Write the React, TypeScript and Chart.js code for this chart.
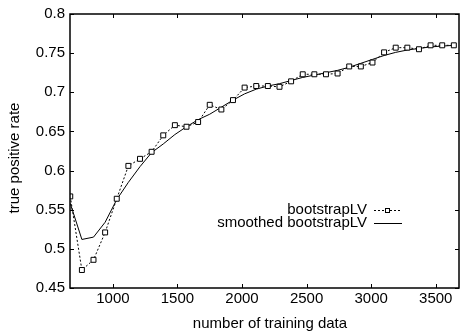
import React, { useEffect, useRef } from "react";
import { Chart, registerables } from "chart.js";

Chart.register(...registerables);

const trainingSizes = [
  670, 760, 850, 940, 1030, 1120, 1210, 1300, 1390, 1480, 1570, 1660, 1750, 1840, 1930, 2020, 2110,
  2200, 2290, 2380, 2470, 2560, 2650, 2740, 2830, 2920, 3010, 3100, 3190, 3280, 3370, 3460, 3550, 3640,
];

const bootstrapLV = [
  0.567, 0.473, 0.486, 0.521, 0.564, 0.606, 0.615, 0.624, 0.645, 0.658, 0.656, 0.662, 0.684, 0.678,
  0.69, 0.706, 0.708, 0.708, 0.707, 0.714, 0.723, 0.723, 0.723, 0.724, 0.733, 0.733, 0.738, 0.751,
  0.757, 0.757, 0.755, 0.76, 0.76, 0.76,
];

const smoothedBootstrapLV = [
  0.558, 0.512, 0.515, 0.534, 0.563, 0.585, 0.605, 0.623, 0.634, 0.646, 0.656, 0.665, 0.672, 0.681,
  0.69, 0.698, 0.704, 0.708, 0.711, 0.715, 0.719, 0.722, 0.725, 0.728, 0.732, 0.737, 0.742, 0.747,
  0.751, 0.754, 0.756, 0.758, 0.759, 0.76,
];

const xTickValues = [1000, 1500, 2000, 2500, 3000, 3500];
const yTickValues = [0.45, 0.5, 0.55, 0.6, 0.65, 0.7, 0.75, 0.8];
const seriesLabels = ["bootstrapLV", "smoothed bootstrapLV"];
const xTitle = "number of training data";
const yTitle = "true positive rate";

const FONT = "'Liberation Sans', Arial, Helvetica, sans-serif";

const framePlugin = {
  id: "frame",
  afterDraw(chart: any) {
    const { ctx, chartArea: a, scales } = chart;
    ctx.save();
    ctx.strokeStyle = "#000";
    ctx.fillStyle = "#000";
    ctx.setLineDash([]);
    ctx.lineWidth = 1.5;
    ctx.strokeRect(a.left, a.top, a.right - a.left, a.bottom - a.top);
    ctx.lineWidth = 1;
    const line = (x1: number, y1: number, x2: number, y2: number) => {
      ctx.beginPath();
      ctx.moveTo(x1, y1);
      ctx.lineTo(x2, y2);
      ctx.stroke();
    };
    xTickValues.forEach((v) => {
      const px = Math.round(scales.x.getPixelForValue(v)) + 0.5;
      line(px, a.bottom, px, a.bottom - 4);
      line(px, a.top, px, a.top + 4);
    });
    yTickValues.forEach((v) => {
      const py = Math.round(scales.y.getPixelForValue(v)) + 0.5;
      line(a.left, py, a.left + 4, py);
      line(a.right, py, a.right - 4, py);
    });

    // axis titles
    ctx.font = `15px ${FONT}`;
    ctx.textAlign = "center";
    ctx.textBaseline = "middle";
    ctx.fillText(xTitle, 270, 324);
    ctx.save();
    ctx.translate(15, 158);
    ctx.rotate(-Math.PI / 2);
    ctx.fillText(yTitle, 0, 0);
    ctx.restore();

    // legend
    ctx.font = `15px ${FONT}`;
    ctx.textAlign = "right";
    ctx.fillText(seriesLabels[0], 367, 210);
    ctx.fillText(seriesLabels[1], 367, 223);
    ctx.lineWidth = 1;
    ctx.setLineDash([2, 2]);
    line(374, 210.5, 402, 210.5);
    ctx.setLineDash([]);
    ctx.fillStyle = "#fff";
    ctx.fillRect(385, 208, 5, 5);
    ctx.strokeRect(385.5, 208.5, 4, 4);
    line(374, 223.5, 402, 223.5);
    ctx.restore();
  },
};

export default function App() {
  const ref = useRef<HTMLCanvasElement | null>(null);
  useEffect(() => {
    document.body.style.margin = "0";
    const canvas = ref.current;
    if (!canvas) return;
    const chart = new Chart(canvas, {
      type: "line",
      data: {
        datasets: [
          {
            label: seriesLabels[0],
            data: trainingSizes.map((x, i) => ({ x, y: bootstrapLV[i] })),
            borderColor: "#000",
            borderWidth: 1,
            borderDash: [2, 2],
            pointStyle: "rect",
            pointRadius: 3.5,
            pointBorderWidth: 1,
            pointBorderColor: "#000",
            pointBackgroundColor: "#fff",
            tension: 0,
          },
          {
            label: seriesLabels[1],
            data: trainingSizes.map((x, i) => ({ x, y: smoothedBootstrapLV[i] })),
            borderColor: "#000",
            borderWidth: 1,
            pointRadius: 0,
            tension: 0,
          },
        ],
      },
      options: {
        animation: false,
        responsive: false,
        devicePixelRatio: 1,
        layout: { padding: { top: 13, right: 1, left: 0, bottom: 0 } },
        plugins: { legend: { display: false }, tooltip: { enabled: false }, title: { display: false } },
        scales: {
          x: {
            type: "linear",
            min: 668,
            max: 3680,
            afterFit: (s: any) => {
              s.height = 47;
            },
            afterBuildTicks: (s: any) => {
              s.ticks = xTickValues.map((v) => ({ value: v }));
            },
            grid: { display: false, drawTicks: false },
            border: { display: false },
            ticks: {
              color: "#000",
              font: { family: FONT, size: 15 },
              padding: 2,
              maxRotation: 0,
              autoSkip: false,
              callback: (v: any) => String(v),
            },
          },
          y: {
            type: "linear",
            min: 0.45,
            max: 0.8,
            afterFit: (s: any) => {
              s.width = 70;
            },
            afterBuildTicks: (s: any) => {
              s.ticks = yTickValues.map((v) => ({ value: v }));
            },
            grid: { display: false, drawTicks: false },
            border: { display: false },
            ticks: {
              color: "#000",
              font: { family: FONT, size: 15 },
              padding: 5,
              autoSkip: false,
              callback: (v: any) => String(parseFloat(Number(v).toFixed(2))),
            },
          },
        },
      },
      plugins: [framePlugin],
    });
    return () => chart.destroy();
  }, []);
  return (
    <div style={{ position: "absolute", left: 0, top: 0, width: 464, height: 335, background: "#fff" }}>
      <canvas ref={ref} width={464} height={335} style={{ display: "block" }} />
    </div>
  );
}
